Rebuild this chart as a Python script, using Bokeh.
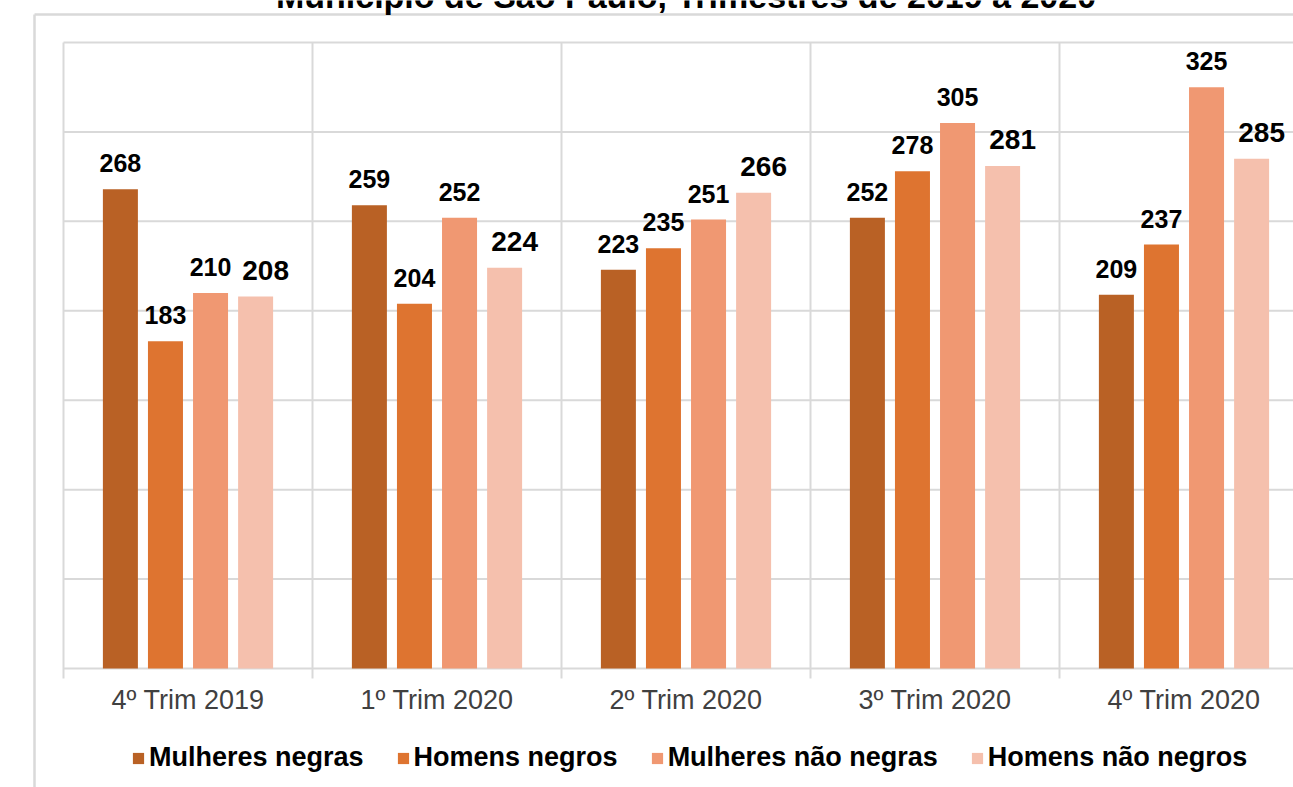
from bokeh.plotting import figure
from bokeh.models import ColumnDataSource, Legend, LegendItem, Range1d
from bokeh.transform import dodge
from bokeh.core.properties import value
from bokeh.embed import file_html
from bokeh.resources import INLINE

# ---- data ----
title_text = "Município de São Paulo, Trimestres de 2019 a 2020"
categories = ["4º Trim 2019", "1º Trim 2020", "2º Trim 2020", "3º Trim 2020", "4º Trim 2020"]
series_names = ["Mulheres negras", "Homens negros", "Mulheres não negras", "Homens não negros"]
mulheres_negras = [268, 259, 223, 252, 209]
homens_negros = [183, 204, 235, 278, 237]
mulheres_nao_negras = [210, 252, 251, 305, 325]
homens_nao_negros = [208, 224, 266, 281, 285]
y_grid_ticks = [0, 50, 100, 150, 200, 250, 300, 350]

# ---- styles / layout ----
colors = ["#B96125", "#DE7430", "#F09872", "#F5C0AD"]
offsets = [-0.2715, -0.0905, 0.0905, 0.2715]
label_sizes = ["25px", "25px", "25px", "28px"]
label_xoff = [0, 0, 0, 10]
grid_color = "#D9D9D9"
FONT = "Liberation Sans"

W, H = 1293, 787
cat_px = 249.0
inner_left_px = 63.0          # inner plot area left edge (px from canvas left)
inner_top_px = 42.0           # top gridline (px from canvas top)
ppu = 626.0 / 350.0           # px per value unit
ymax = y_grid_ticks[-1]

x0 = -inner_left_px / cat_px
x1 = x0 + W / cat_px
y1 = ymax + inner_top_px / ppu
y0 = y1 - H / ppu
tick_bottom = -10.0 / ppu
frame_x = x0 + 34.0 / cat_px          # outer frame left line
frame_y = y1 - 14.0 / ppu             # outer frame top line
title_y = y1 + 5.0 / ppu              # title baseline anchor (mostly above the page)

centers = [i + 0.5 for i in range(len(categories))]
bounds = [i for i in range(len(categories) + 1)]
cols = ["mn", "hn", "mnn", "hnn"]
values_list = [mulheres_negras, homens_negros, mulheres_nao_negras, homens_nao_negros]
data = dict(x=centers, cat=categories)
for c, v in zip(cols, values_list):
    data[c] = v
    data[c + "_lbl"] = [str(a) for a in v]
src = ColumnDataSource(data)

p = figure(width=W, height=H, output_backend="svg", toolbar_location=None,
           x_range=Range1d(x0, x1), y_range=Range1d(y0, y1),
           min_border_left=0, min_border_right=0, min_border_top=0, min_border_bottom=0)
p.xaxis.visible = False
p.yaxis.visible = False
p.xgrid.visible = False
p.ygrid.visible = False
p.outline_line_color = None
p.background_fill_color = "white"
p.border_fill_color = "white"

# outer frame lines (left and top)
p.segment(x0=[frame_x, frame_x], y0=[frame_y, frame_y], x1=[frame_x, x1], y1=[y0, frame_y],
          line_color=grid_color, line_width=2.5)

# title (cut off at the top of the page, as in the source image)
p.text(x=[(bounds[0] + bounds[-1]) / 2], y=[title_y], text=[title_text],
       text_align="center", text_baseline="alphabetic",
       text_font=value(FONT), text_font_style="bold", text_font_size="34px", text_color="black")

# grid lines of the inner plot area
gx0 = [bounds[0]] * len(y_grid_ticks)
gx1 = [bounds[-1]] * len(y_grid_ticks)
p.segment(x0=gx0, x1=gx1, y0=y_grid_ticks, y1=y_grid_ticks, line_color=grid_color, line_width=2)
p.segment(x0=bounds, x1=bounds, y0=[tick_bottom] * len(bounds), y1=[ymax] * len(bounds),
          line_color=grid_color, line_width=2)

renderers = []
for i, c in enumerate(cols):
    r = p.vbar(x=dodge("x", offsets[i]), top=c, width=0.1406, bottom=0, source=src,
               fill_color=colors[i], line_color=None)
    renderers.append(r)
    p.text(x=dodge("x", offsets[i]), y=c, text=c + "_lbl", source=src,
           text_align="center", text_baseline="alphabetic",
           x_offset=label_xoff[i], y_offset=-26,
           text_font=value(FONT), text_font_style="bold",
           text_font_size=label_sizes[i], text_color="black")

# category labels
p.text(x="x", y=0, text="cat", source=src, text_align="center", text_baseline="alphabetic",
       y_offset=31, text_font=value(FONT), text_font_size="27px", text_color="#404040")

legend = Legend(items=[LegendItem(label=n, renderers=[r]) for n, r in zip(series_names, renderers)],
                orientation="horizontal", location=(131, 14),
                glyph_width=14, glyph_height=14, label_standoff=4, spacing=32,
                label_text_font=FONT, label_text_font_style="bold", label_text_font_size="27px",
                label_text_color="black", border_line_color=None, background_fill_alpha=0,
                padding=0, margin=0)
p.add_layout(legend)

open("out.html", "w").write(file_html(p, INLINE))
